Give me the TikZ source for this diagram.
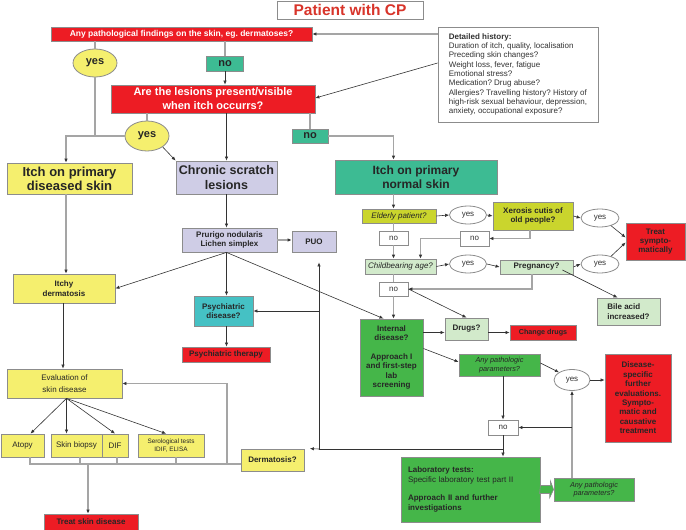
\documentclass[tikz,border=0pt]{standalone}
\usepackage{fontspec}
\setmainfont{Liberation Sans}
\usetikzlibrary{arrows.meta,shapes.geometric}
\frenchspacing

\definecolor{cred}{HTML}{ED1C24}
\definecolor{ctitle}{HTML}{D8342A}
\definecolor{cyellow}{HTML}{F5EF6E}
\definecolor{clav}{HTML}{CFCDE6}
\definecolor{cteal}{HTML}{3DBB93}
\definecolor{ccyan}{HTML}{45C1C4}
\definecolor{colive}{HTML}{CAD52D}
\definecolor{clgreen}{HTML}{D2EACB}
\definecolor{cgreen}{HTML}{45B649}
\definecolor{cborder}{HTML}{8C8C8C}
\definecolor{cdark}{HTML}{333333}
\definecolor{cgray}{HTML}{A5A5A5}
\definecolor{ctext}{HTML}{262626}

\newcommand{\fsz}[2]{\fontsize{#1}{#2}\selectfont}

\begin{document}
\begin{tikzpicture}[x=1pt, y=-1pt,
    box/.style={draw=cborder, line width=0.8pt, inner sep=0pt, align=center, text=ctext},
    sz/.style 2 args={minimum width=#1pt, minimum height=#2pt},
    lbl/.style={font=\bfseries\fsz{8}{9.4}},
    redq/.style={box, fill=cred, text=white, font=\bfseries},
    redbox/.style={box, lbl, fill=cred},
    ybox/.style={box, fill=cyellow},
    lavbox/.style={box, lbl, fill=clav},
    tealbox/.style={box, fill=cteal},
    olbox/.style={box, fill=colive},
    lgbox/.style={box, fill=clgreen},
    gbox/.style={box, fill=cgreen},
    nobox/.style={box, fill=white, text=cdark, font=\fsz{8}{9}},
    yesw/.style={ellipse, draw=cborder, line width=0.8pt, fill=white, inner sep=0pt, text=cdark, font=\fsz{8}{9}},
    yesy/.style={ellipse, draw=cborder, line width=0.8pt, fill=cyellow, inner sep=0pt, text=ctext, font=\bfseries\fsz{11}{12}},
    dline/.style={draw=cdark, line width=0.6pt},
    darr/.style={dline, -{Latex[length=4pt,width=3.4pt]}},
    gline/.style={draw=cgray, line width=1.3pt},
    garr/.style={gline, -{Latex[length=4pt,width=3.6pt,color=cdark]}}]

    \useasboundingbox (0,0) rectangle (686,530);

    % title and first questions
    \node[box, fill=white, text=ctitle, font=\bfseries\fsz{15.5}{18}, sz={146}{18}] (title) at (350,10) {Patient with CP};
    \node[redq, font=\bfseries\fsz{8.5}{10}, sz={261}{14}] (q1) at (181.5,34) {Any pathological findings on the skin, eg. dermatoses?};
    \node[redq, font=\bfseries\fsz{11}{14}, sz={204}{28}] (q2) at (213,99) {Are the lesions present/visible\\when itch occurrs?};
    \node[box, fill=white, text=cdark, font=\fsz{8}{9.3}, align=left, sz={160}{95}] (hist) at (518,74.5)
        {\textbf{Detailed history:}\\Duration of itch, quality, localisation\\Preceding skin changes?\\Weight loss, fever, fatigue\\Emotional stress?\\Medication? Drug abuse?\\Allergies? Travelling history? History of\\high-risk sexual behaviour, depression,\\anxiety, occupational exposure?};

    \node[yesy, sz={44}{28}] (yes1) at (95,63) {yes};
    \node[tealbox, font=\bfseries\fsz{11}{12}, sz={37}{15}] (no1) at (225,63.5) {no};
    \node[yesy, sz={44}{30}] (yes2) at (147,136) {yes};
    \node[tealbox, font=\bfseries\fsz{11}{12}, sz={36}{14}] (no2) at (310,136) {no};

    % three kinds of itch
    \node[ybox, font=\bfseries\fsz{13}{14}, sz={125}{31}] (itchd) at (69.5,178.5) {Itch on primary\\diseased skin};
    \node[box, fill=clav, font=\bfseries\fsz{12.5}{14.5}, sz={101}{33}] (chronic) at (226.5,177.5) {Chronic scratch\\lesions};
    \node[tealbox, font=\bfseries\fsz{12}{14}, sz={162}{34}] (itchn) at (416,177) {Itch on primary\\normal skin};

    % left branch
    \node[ybox, lbl, sz={102}{29}] (itchy) at (64,288.5) {Itchy\\dermatosis};
    \node[ybox, font=\fsz{8}{11.5}, sz={115}{29}] (eval) at (64.5,383.5) {Evaluation of\\skin disease};
    \node[ybox, font=\fsz{8}{9}, sz={43}{23}] (atopy) at (22.5,445.5) {Atopy};
    \node[ybox, font=\fsz{8}{9}, sz={51}{23}] (biopsy) at (76.5,445.5) {Skin biopsy};
    \node[ybox, font=\fsz{8}{9}, sz={26}{23}] (dif) at (115,445.5) {DIF};
    \node[ybox, font=\fsz{6.4}{8}, sz={66}{23}] (sero) at (171,445.5) {Serological tests\\IDIF, ELISA};
    \node[ybox, lbl, sz={63}{22}] (dermat) at (272.5,460) {Dermatosis?};
    \node[redbox, sz={94}{16}] (tskin) at (91,522) {Treat skin disease};

    % middle branch
    \node[lavbox, sz={95}{24}] (prurigo) at (229.5,240) {Prurigo nodularis\\Lichen simplex};
    \node[lavbox, sz={44}{21}] (puo) at (314,241.5) {PUO};
    \node[box, lbl, fill=ccyan, sz={59}{30}] (psych) at (223.5,311) {Psychiatric\\disease?};
    \node[redbox, sz={88}{15}] (psyth) at (226,354.5) {Psychiatric therapy};

    % right branch
    \node[olbox, font=\itshape\fsz{8}{9}, sz={74}{14}] (elderly) at (399,216) {Elderly patient?};
    \node[yesw, sz={37}{18}] (yes3) at (468,215) {yes};
    \node[olbox, lbl, sz={80}{28}] (xerosis) at (533,216) {Xerosis cutis of\\old people?};
    \node[yesw, sz={38}{18}] (yes4) at (600,218) {yes};
    \node[redbox, sz={59}{37}] (treat) at (655.5,241.5) {Treat\\sympto-\\matically};
    \node[nobox, sz={29}{15}] (no4) at (474.5,238.5) {no};
    \node[nobox, sz={29}{14}] (no3) at (393.5,238) {no};
    \node[lgbox, font=\itshape\fsz{8}{9}, sz={71}{15}] (childbear) at (400.5,266.5) {Childbearing age?};
    \node[yesw, sz={37}{18}] (yes5) at (468,264) {yes};
    \node[lgbox, lbl, sz={73}{14}] (preg) at (536.5,267) {Pregnancy?};
    \node[yesw, sz={38}{18}] (yes6) at (600,264) {yes};
    \node[lgbox, font=\bfseries\fsz{8}{10}, align=left, sz={63}{27}] (bile) at (628.5,311.5) {Bile acid\\increased?};
    \node[nobox, sz={29}{14}] (no6) at (393.5,289) {no};
    \node[gbox, lbl, sz={63}{77}] (internal) at (391.5,357.5) {Internal\\disease?\\[9.4pt]Approach I\\and first-step\\lab\\screening};
    \node[lgbox, lbl, sz={43}{22}] (drugs) at (466.5,329) {Drugs?};
    \node[redbox, font=\bfseries\fsz{7.2}{8}, sz={66}{15}] (chdrugs) at (543,332.5) {Change drugs};
    \node[gbox, font=\itshape\fsz{7.3}{8.3}, sz={81}{22}] (any1) at (499.5,365) {Any pathologic\\parameters?};
    \node[yesw, sz={36}{21}] (yes7) at (572,380) {yes};
    \node[redbox, sz={66}{88}] (disease) at (638,398) {Disease-\\specific\\further\\evaluations.\\Sympto-\\matic and\\causative\\treatment};
    \node[nobox, sz={30}{15}] (no8) at (503,427.5) {no};
    \node[gbox, font=\fsz{8}{9.3}, align=left, text width=125pt, sz={139}{65}] (lab) at (470.5,489.5)
        {\textbf{Laboratory tests:}\\Specific laboratory test part II\\[9.3pt]\textbf{Approach II and further}\\\textbf{investigations}};
    \node[gbox, font=\itshape\fsz{7.3}{8.3}, sz={80}{23}] (any2) at (594,489.5) {Any pathologic\\parameters?};

    % connectors at the top
    \coordinate (j1) at (95,136);
    \draw[garr] (hist.west |- q1.east) -- (q1.east);
    \draw[darr] ([yshift=11.5pt]hist.west) -- ([yshift=1pt]q2.east);
    \draw[gline] (q1.south -| yes1) -- (yes1.north);
    \draw[garr] (yes1.south) -- (j1) -| ([xshift=-3.5pt]itchd.north);
    \draw[gline] (yes2.west) -- (j1);
    \draw[gline] (q1.south -| no1) -- (no1.north);
    \draw[darr] (no1.south) -- (no1.south |- q2.north);
    \draw[gline] (q2.south -| yes2) -- (yes2.north);
    \draw[darr] (yes2.-35) -- (chronic.north west);
    \draw[darr] (q2.south -| chronic) -- (chronic.north);
    \draw[gline] (q2.south -| no2) -- (no2.north);
    \draw[garr] (no2.east) -| (itchn.north -| no3);

    % right column
    \draw[garr] (itchn.south -| no3) -- (elderly.north -| no3);
    \draw[darr] (elderly.east) -- (yes3.west);
    \draw[darr] (yes3.east) -- (xerosis.west);
    \draw[darr] (xerosis.east) -- (yes4.west);
    \draw[darr] (yes4.-35) -- ([yshift=4pt]treat.west);
    \draw[gline] (elderly.south -| no3) -- (no3.north);
    \draw[garr] (no3.south) -- (childbear.north -| no3);
    \coordinate (xs) at ([xshift=-3pt]xerosis.south);
    \draw[garr] (xs) |- (no4.east);
    \coordinate (cbn) at ([xshift=20pt]childbear.north);
    \draw[garr] (no4.west) -| (cbn);
    \draw[darr] (childbear.east) -- (yes5.west);
    \draw[darr] (yes5.east) -- (preg.west);
    \draw[darr] (preg.east) -- (yes6.west);
    \draw[darr] (yes6.35) -- ([yshift=-1pt]treat.west);
    \draw[darr] ([xshift=-11pt,yshift=-3pt]preg.east) -- ([xshift=-11pt]bile.north);
    \draw[gline] (childbear.south -| no6) -- (no6.north);
    \coordinate (ps) at ([xshift=-4.5pt]preg.south);
    \draw[garr] (ps) |- (no6.east);
    \draw[darr] (no6.east) -- (drugs.north);
    \draw[garr] (no6.south) -- (internal.north -| no6);

    % middle column
    \coordinate (pru) at (prurigo.south -| chronic.south);
    \draw[darr] (chronic.south) -- (chronic.south |- prurigo.north);
    \draw[garr] (prurigo.east) -- (prurigo.east -| puo.west);
    \draw[darr] (pru) -- (itchy.east);
    \draw[darr] (pru) -- (pru |- psych.north);
    \draw[darr] (pru) -- ([xshift=-8pt]internal.north);
    \draw[darr] (pru |- psych.south) -- (pru |- psyth.north);

    % left column
    \coordinate (ids) at ([xshift=-3.5pt]itchd.south);
    \draw[garr] (ids) -- (ids |- itchy.north);
    \coordinate (iys) at ([xshift=-1pt]itchy.south);
    \draw[darr] (iys) -- (iys |- eval.north);
    \coordinate (evs) at ([xshift=2pt]eval.south);
    \draw[darr] (evs) -- ([xshift=8pt]atopy.north);
    \draw[darr] (evs) -- ([xshift=-10pt]biopsy.north);
    \draw[darr] (evs) -- (dif.north);
    \draw[darr] (evs) -- ([xshift=-5pt]sero.north);

    % collecting line under the tests
    \coordinate (busl) at (30,464);
    \coordinate (jev) at (227,464);
    \coordinate (bsb) at ([xshift=3.5pt]biopsy.south);
    \coordinate (bsd) at ([xshift=2pt]dif.south);
    \coordinate (bss) at ([xshift=5pt]sero.south);
    \coordinate (tsn) at ([xshift=-3pt]tskin.north);
    \draw[gline] (busl |- atopy.south) -- (busl) -- (busl -| dermat.west);
    \draw[gline] (bsb) -- (bsb |- busl);
    \draw[gline] (bsd) -- (bsd |- busl);
    \draw[gline] (bss) -- (bss |- busl);
    \draw[garr] (tsn |- busl) -- (tsn);
    \draw[garr] (jev) |- (eval.east);

    % lower right
    \draw[darr] (internal.east |- chdrugs) -- (drugs.west |- chdrugs);
    \draw[darr] (drugs.east |- chdrugs) -- (chdrugs.west);
    \draw[darr] ([yshift=9pt]internal.east) -- ([yshift=3pt]any1.west);
    \draw[darr] ([yshift=2pt]any1.east) -- (yes7.north west);
    \draw[darr] (yes7.east) -- (yes7.east -| disease.west);
    \draw[darr] (any1.south -| no8) -- (no8.north);
    \draw[garr] (any2.north -| yes7) -- (yes7.south);
    \draw[darr] (yes7 |- no8) -- (no8.east);
    \draw[darr] (no8.south) -- (no8.south |- lab.north);
    \coordinate (jd) at (319,449);
    \draw[dline] (no8.south |- jd) -- (jd);
    \draw[darr] (jd) -- ([xshift=5.5pt]dermat.north east);
    \draw[darr, shorten >=10pt] (jd) -- (jd |- puo.south);
    \draw[darr] (jd |- psych.east) -- (psych.east);
    \filldraw[fill=cgreen, draw=cborder, line width=0.6pt] ([yshift=4pt]lab.east) -- ++(10,0) -- ++(0,-4.5) -- (any2.west) -- ++(-4,8.5) -- ++(0,-4.5) -- ++(-10,0) -- cycle;
\end{tikzpicture}
\end{document}
